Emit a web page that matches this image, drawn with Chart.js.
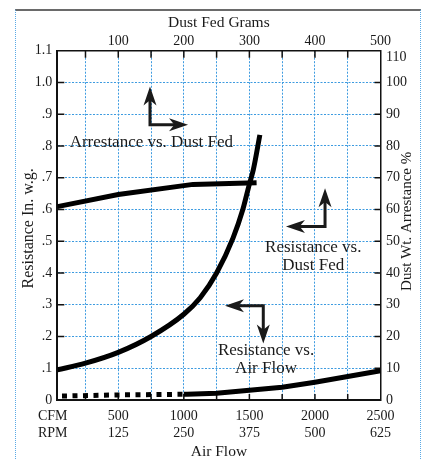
<!DOCTYPE html>
<html>
<head>
<meta charset="utf-8">
<title>Resistance and Arrestance</title>
<script src="https://cdn.jsdelivr.net/npm/chart.js@4.4.1/dist/chart.umd.min.js"></script>
<style>
body{margin:0;background:#fff;}
#wrap{position:relative;width:425px;height:459px;}
#frame{position:absolute;left:15px;top:9px;width:404px;height:452px;border-top:2px solid #6a6a6a;border-left:1px dotted #5aa9e6;border-right:1px dotted #5aa9e6;}
canvas{position:absolute;left:0;top:0;}
</style>
</head>
<body>
<div id="wrap"><div id="frame"></div><canvas id="chart"></canvas></div>
<script>
// resistance vs. air flow (bottom axis CFM, left axis in. w.g.)
var airflowCfm = [35, 250, 500, 750, 1000, 1125, 1250, 1375, 1450, 1500, 1530, 1580];
var airflowRes = [0.095, 0.116, 0.150, 0.200, 0.270, 0.322, 0.400, 0.510, 0.600, 0.680, 0.725, 0.835];

// arrestance vs. dust fed (top axis grams, right axis %)
var dustGrams = [7, 100, 214, 311];
var arrestancePct = [60.9, 64.7, 67.9, 68.4];

// resistance vs. dust fed (top axis grams, left axis in. w.g.), dotted up to 200 g
var dustResGrams = [7, 100, 200, 205, 250, 350, 400, 500];
var dustRes = [0.012, 0.016, 0.018, 0.018, 0.021, 0.040, 0.056, 0.092];

// tick labels
var labelCfm = [0, 500, 1000, 1500, 2000, 2500];
var cfmLabels = ['CFM', '500', '1000', '1500', '2000', '2500'];
var rpmLabels = ['RPM', '125', '250', '375', '500', '625'];
var gramLabels = [100, 200, 300, 400, 500];
var resLabels = ['0', '.1', '.2', '.3', '.4', '.5', '.6', '.7', '.8', '.9', '1.0', '1.1'];
var pctLabels = ['0', '10', '20', '30', '40', '50', '60', '70', '80', '90', '100', '110'];

// notes and arrows, placed in CFM / in. w.g. units
var notes = [
  {text: ['Arrestance vs. Dust Fed'], cfm: 752, res: 0.798},
  {text: ['Resistance vs.', 'Dust Fed'], cfm: 1987, res: 0.467},
  {text: ['Resistance vs.', 'Air Flow'], cfm: 1627, res: 0.142}
];
var arrows = [
  {cfm: 742, res: 0.867, toCfm: 1032, toRes: 0.987},
  {cfm: 2077, res: 0.546, toCfm: 1779, toRes: 0.667},
  {cfm: 1606, res: 0.297, toCfm: 1314, toRes: 0.178}
];

var serif = "'Liberation Serif', 'DejaVu Serif', serif";
var ink = '#1a1a1a';
var gridBlue = '#3d9be0';

function pts(xs, ys){ return xs.map(function(x, i){ return {x: x, y: ys[i]}; }); }
function stepTicks(from, to, step){
  var t = [];
  for (var i = 0; from + i*step <= to + 1e-9; i++) t.push({value: Math.round((from + i*step)*1000)/1000});
  return t;
}

var tickMarks = {
  id: 'tickMarks',
  beforeDatasetsDraw: function(chart){
    var c = chart.ctx, a = chart.chartArea, s = chart.scales;
    c.save();
    c.strokeStyle = '#111';
    c.lineWidth = 1.5;
    c.beginPath();
    s.x.ticks.forEach(function(t){
      if (t.value <= s.x.min || t.value >= s.x.max) return;
      var p = s.x.getPixelForValue(t.value);
      c.moveTo(p, a.bottom); c.lineTo(p, a.bottom - 6);
    });
    s.x2.ticks.forEach(function(t){
      if (t.value <= s.x2.min || t.value >= s.x2.max) return;
      var p = s.x2.getPixelForValue(t.value);
      c.moveTo(p, a.top); c.lineTo(p, a.top + 7);
    });
    s.y.ticks.forEach(function(t){
      if (t.value <= 0 || t.value >= 1.1) return;
      var p = s.y.getPixelForValue(t.value);
      c.moveTo(a.left, p); c.lineTo(a.left + 7, p);
    });
    s.y2.ticks.forEach(function(t){
      if (t.value <= 0 || t.value >= 110) return;
      var p = s.y2.getPixelForValue(t.value);
      c.moveTo(a.right, p); c.lineTo(a.right - 6, p);
    });
    c.stroke();
    c.restore();
  }
};

function arrowHead(c, x, y, ang){
  var L = 19, W = 6.5;
  c.save();
  c.translate(x, y);
  c.rotate(ang);
  c.beginPath();
  c.moveTo(0, 0);
  c.lineTo(-L, -W);
  c.lineTo(-L*0.72, 0);
  c.lineTo(-L, W);
  c.closePath();
  c.fill();
  c.restore();
}

var annotate = {
  id: 'annotate',
  afterDatasetsDraw: function(chart){
    var c = chart.ctx, sx = chart.scales.x, sy = chart.scales.y;
    c.save();
    c.fillStyle = ink;
    c.strokeStyle = ink;
    c.font = '17px ' + serif;
    c.textAlign = 'center';
    c.textBaseline = 'alphabetic';
    notes.forEach(function(n){
      var x = sx.getPixelForValue(n.cfm), y = sy.getPixelForValue(n.res);
      n.text.forEach(function(line, i){ c.fillText(line, x, y + i*18); });
    });
    c.lineWidth = 3;
    c.lineJoin = 'miter';
    arrows.forEach(function(ar){
      var cx = sx.getPixelForValue(ar.cfm), cy = sy.getPixelForValue(ar.res);
      var hx = sx.getPixelForValue(ar.toCfm), vy = sy.getPixelForValue(ar.toRes);
      var dh = hx > cx ? 1 : -1, dv = vy > cy ? 1 : -1;
      c.beginPath();
      c.moveTo(hx - dh*12, cy);
      c.lineTo(cx, cy);
      c.lineTo(cx, vy - dv*12);
      c.stroke();
      arrowHead(c, hx, cy, dh > 0 ? 0 : Math.PI);
      arrowHead(c, cx, vy, dv > 0 ? Math.PI/2 : -Math.PI/2);
    });
    c.restore();
  }
};

var axisTitles = {
  id: 'axisTitles',
  afterDraw: function(chart){
    var c = chart.ctx, a = chart.chartArea, midX = (a.left + a.right)/2, midY = (a.top + a.bottom)/2;
    var y2 = chart.scales.y2;
    c.save();
    c.fillStyle = ink;
    // top right label sits a little lower so it clears the 500 above it
    c.font = '14px ' + serif;
    c.textAlign = 'left';
    c.textBaseline = 'middle';
    c.fillText(pctLabels[pctLabels.length - 1], a.right + 5.5, y2.getPixelForValue(110) + 7);
    c.textAlign = 'center';
    c.font = '15.5px ' + serif;
    c.fillText('Dust Fed Grams', midX, a.top - 27.5);
    c.fillText('Air Flow', midX, a.bottom + 52);
    c.save();
    c.translate(a.left - 29, midY + 3);
    c.rotate(-Math.PI/2);
    c.font = '16px ' + serif;
    c.fillText('Resistance In. w.g.', 0, 0);
    c.restore();
    c.save();
    c.translate(a.right + 27, midY - 4);
    c.rotate(-Math.PI/2);
    c.font = '15px ' + serif;
    c.fillText('Dust Wt. Arrestance %', 0, 0);
    c.restore();
    c.restore();
  }
};

var tickFont = {family: serif, size: 14};

new Chart(document.getElementById('chart'), {
  type: 'line',
  data: {
    datasets: [
      {
        label: 'Resistance vs. Air Flow',
        data: pts(airflowCfm, airflowRes),
        xAxisID: 'x', yAxisID: 'y',
        borderColor: '#000', borderWidth: 5,
        cubicInterpolationMode: 'monotone',
        pointRadius: 0
      },
      {
        label: 'Arrestance vs. Dust Fed',
        data: pts(dustGrams, arrestancePct),
        xAxisID: 'x2', yAxisID: 'y2',
        borderColor: '#000', borderWidth: 5,
        tension: 0,
        pointRadius: 0
      },
      {
        label: 'Resistance vs. Dust Fed',
        data: pts(dustResGrams, dustRes),
        xAxisID: 'x2', yAxisID: 'y',
        borderColor: '#000', borderWidth: 5,
        tension: 0,
        pointRadius: 0,
        segment: {
          borderDash: function(ctx){ return ctx.p1.parsed.x <= 200 ? [5, 5.5] : undefined; },
          borderDashOffset: function(ctx){ return ctx.p1.parsed.x <= 200 ? 5.8 : 0; }
        }
      }
    ]
  },
  options: {
    responsive: true,
    maintainAspectRatio: false,
    animation: false,
    layout: {padding: 0},
    plugins: {legend: {display: false}, tooltip: {enabled: false}},
    scales: {
      x: {
        type: 'linear', position: 'bottom', min: 35, max: 2500,
        afterBuildTicks: function(s){ s.ticks = stepTicks(0, 2500, 250); },
        afterFit: function(s){ s.height = 59; },
        ticks: {
          autoSkip: false, maxRotation: 0, padding: 8.3, color: ink, font: tickFont,
          callback: function(v){ var i = labelCfm.indexOf(v); return i < 0 ? '' : [cfmLabels[i], rpmLabels[i]]; }
        },
        grid: {
          drawTicks: false, lineWidth: 1,
          color: function(ctx){ return ctx.tick && ctx.tick.value > 35 && ctx.tick.value < 2500 ? gridBlue : 'rgba(0,0,0,0)'; }
        },
        border: {color: '#111', width: 2, dash: [2, 1.5]}
      },
      x2: {
        type: 'linear', position: 'top', min: 7, max: 500,
        afterBuildTicks: function(s){ s.ticks = stepTicks(50, 500, 50); },
        afterFit: function(s){ s.height = 50.7; },
        ticks: {
          autoSkip: false, maxRotation: 0, padding: 1, color: ink, font: tickFont,
          callback: function(v){ return gramLabels.indexOf(v) < 0 ? '' : String(v); }
        },
        grid: {display: false, drawTicks: false},
        border: {color: '#111', width: 1.5}
      },
      y: {
        type: 'linear', position: 'left', min: 0, max: 1.1,
        afterBuildTicks: function(s){ s.ticks = stepTicks(0, 1.1, 0.1); },
        afterFit: function(s){ s.width = 57.3; },
        ticks: {
          autoSkip: false, padding: 5, color: ink, font: tickFont,
          callback: function(v, i){ return resLabels[i]; }
        },
        grid: {drawTicks: false, lineWidth: 1, color: gridBlue},
        border: {color: '#111', width: 2, dash: [2, 1.5]}
      },
      y2: {
        type: 'linear', position: 'right', min: 0, max: 110,
        afterBuildTicks: function(s){ s.ticks = stepTicks(0, 110, 10); },
        afterFit: function(s){ s.width = 44.5; },
        ticks: {
          autoSkip: false, padding: 5.5, color: ink, font: tickFont,
          callback: function(v, i){ return i === pctLabels.length - 1 ? '' : pctLabels[i]; }
        },
        grid: {display: false, drawTicks: false},
        border: {color: '#111', width: 1.5}
      }
    }
  },
  plugins: [tickMarks, annotate, axisTitles]
});
</script>
</body>
</html>
